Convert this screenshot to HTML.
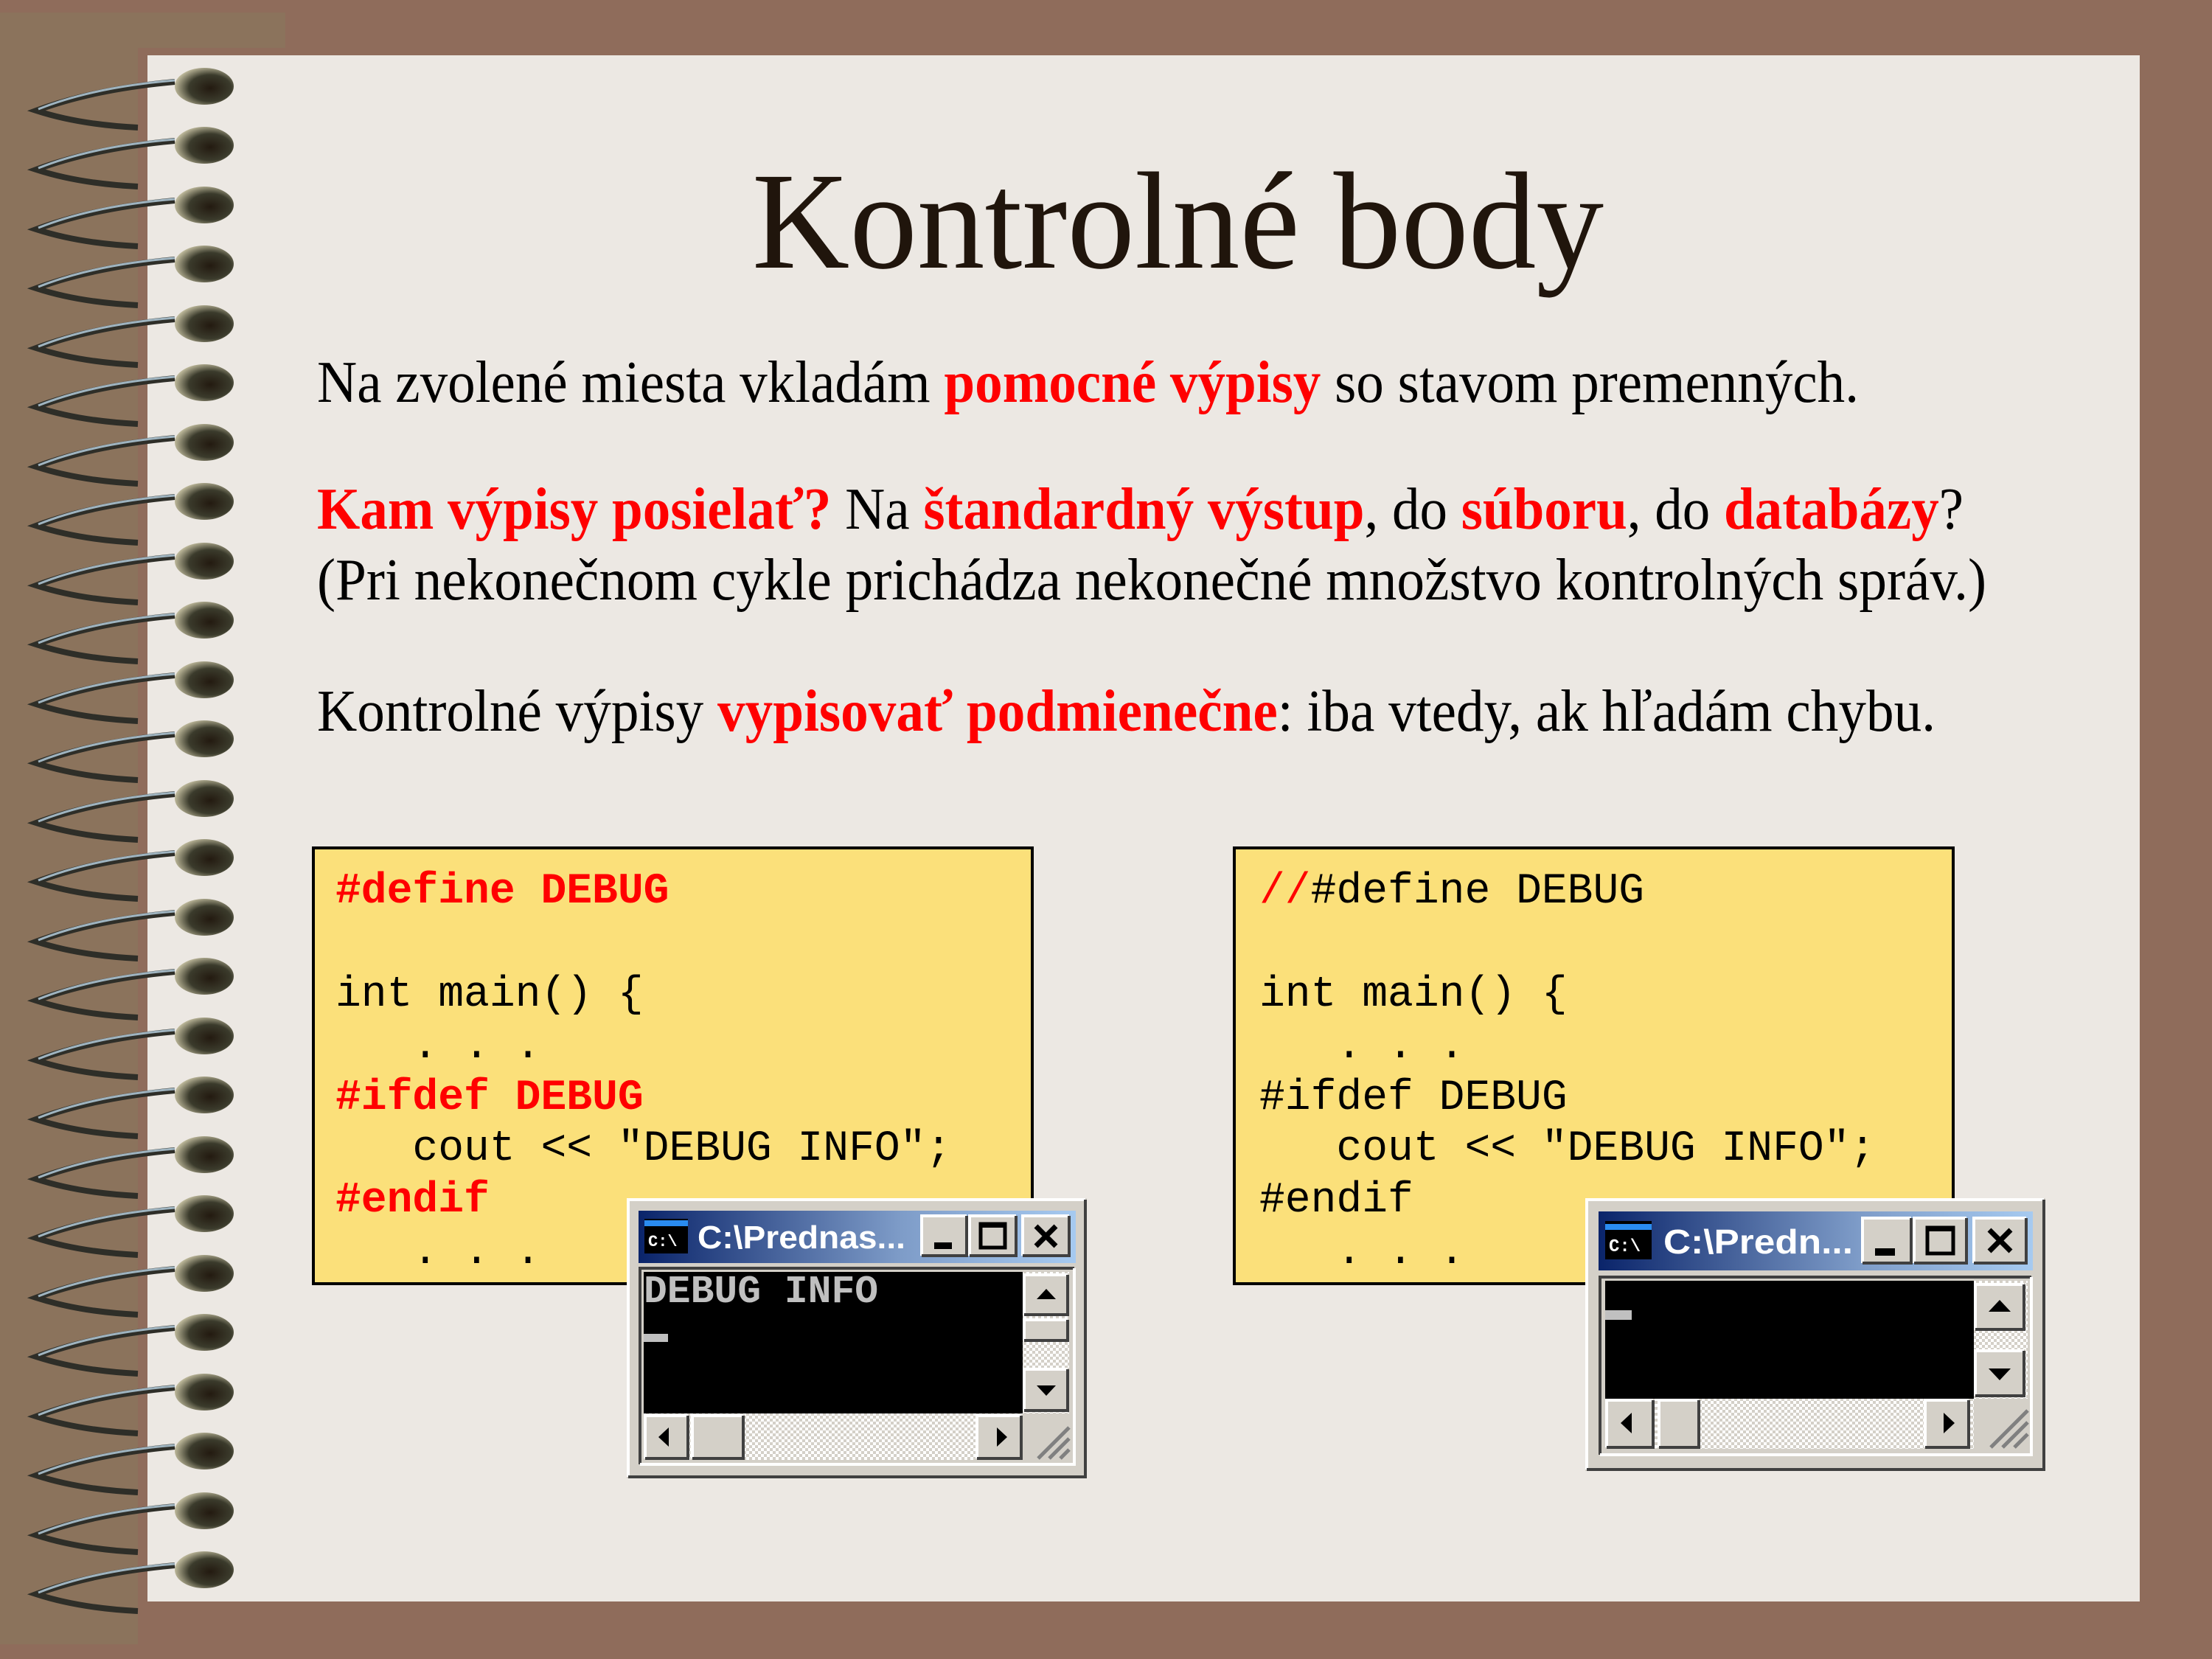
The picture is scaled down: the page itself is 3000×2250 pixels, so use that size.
<!DOCTYPE html>
<html><head><meta charset="utf-8"><style>
html,body{margin:0;padding:0;background:#8f6c5b;}
svg{display:block}
.s{font-family:"Liberation Serif",serif}
.m{font-family:"Liberation Mono",monospace;font-size:58px;white-space:pre}
.t{font-family:"Liberation Sans",sans-serif;font-weight:bold;fill:#fff}
.b{fill:#d4d0c8}
.hl{fill:none;stroke:#fff;stroke-width:4}
.sh{fill:none;stroke:#404040;stroke-width:4}
</style></head><body>
<svg width="3000" height="2250" viewBox="0 0 3000 2250" xmlns="http://www.w3.org/2000/svg">
<defs>
<linearGradient id="tg" x1="0" x2="1" y1="0" y2="0"><stop offset="0" stop-color="#0a246a"/><stop offset="0.6" stop-color="#7e9cc8"/><stop offset="1" stop-color="#a6caf0"/></linearGradient>
<pattern id="ck" width="8" height="8" patternUnits="userSpaceOnUse"><rect width="8" height="8" fill="#fff"/><rect width="4" height="4" fill="#d4d0c8"/><rect x="4" y="4" width="4" height="4" fill="#d4d0c8"/></pattern>
<radialGradient id="bd" cx="0.6" cy="0.55" r="0.6"><stop offset="0" stop-color="#231a10"/><stop offset="0.6" stop-color="#3b3b2c"/><stop offset="1" stop-color="#bdb89a"/></radialGradient>
<g id="ring">
<path d="M -40,-6 Q -150,4 -228,33 Q -170,52 -90,56" fill="none" stroke="#2e2e28" stroke-width="8"/>
<path d="M -40,-8 Q -150,1 -225,31" fill="none" stroke="#9fb4c0" stroke-width="3"/>
<ellipse cx="0" cy="0" rx="40" ry="25" fill="url(#bd)"/>
</g>
</defs>
<rect width="3000" height="2250" fill="#8f6c5b"/>
<rect x="0" y="17" width="387" height="48" fill="#8b735c"/>
<rect x="0" y="65" width="187" height="2165" fill="#8b735c"/>
<rect x="200" y="75" width="2702" height="2097" fill="#ece8e3"/>
<g>
<use href="#ring" x="277" y="117"/><use href="#ring" x="277" y="197"/><use href="#ring" x="277" y="278"/><use href="#ring" x="277" y="358"/><use href="#ring" x="277" y="439"/><use href="#ring" x="277" y="519"/><use href="#ring" x="277" y="600"/><use href="#ring" x="277" y="680"/><use href="#ring" x="277" y="761"/><use href="#ring" x="277" y="841"/><use href="#ring" x="277" y="922"/><use href="#ring" x="277" y="1002"/><use href="#ring" x="277" y="1083"/><use href="#ring" x="277" y="1163"/><use href="#ring" x="277" y="1244"/><use href="#ring" x="277" y="1324"/><use href="#ring" x="277" y="1405"/><use href="#ring" x="277" y="1485"/><use href="#ring" x="277" y="1566"/><use href="#ring" x="277" y="1646"/><use href="#ring" x="277" y="1727"/><use href="#ring" x="277" y="1807"/><use href="#ring" x="277" y="1888"/><use href="#ring" x="277" y="1968"/><use href="#ring" x="277" y="2049"/><use href="#ring" x="277" y="2129"/>
</g>
<text class="s" x="1020" y="363" font-size="188" fill="#20150c" textLength="1155" lengthAdjust="spacingAndGlyphs">Kontrolné body</text>
<text class="s" x="430" y="545" font-size="80" textLength="2091" lengthAdjust="spacingAndGlyphs">Na zvolené miesta vkladám <tspan fill="#ff0000" font-weight="bold">pomocné výpisy</tspan> so stavom premenných.</text>
<text class="s" x="430" y="717" font-size="80" textLength="2233" lengthAdjust="spacingAndGlyphs"><tspan fill="#ff0000" font-weight="bold">Kam výpisy posielať?</tspan> Na <tspan fill="#ff0000" font-weight="bold">štandardný výstup</tspan>, do <tspan fill="#ff0000" font-weight="bold">súboru</tspan>, do <tspan fill="#ff0000" font-weight="bold">databázy</tspan>?</text>
<text class="s" x="430" y="813" font-size="80" textLength="2264" lengthAdjust="spacingAndGlyphs">(Pri nekonečnom cykle prichádza nekonečné množstvo kontrolných správ.)</text>
<text class="s" x="430" y="991" font-size="80" textLength="2195" lengthAdjust="spacingAndGlyphs">Kontrolné výpisy <tspan fill="#ff0000" font-weight="bold">vypisovať podmienečne</tspan>: iba vtedy, ak hľadám chybu.</text>

<rect x="425" y="1150" width="975" height="591" fill="#fbe07a" stroke="#000" stroke-width="4"/>
<text class="m" x="455" y="1224" fill="#ff0000" font-weight="bold">#define DEBUG</text>
<text class="m" x="455" y="1364">int main() {</text>
<text class="m" x="455" y="1434">   . . .</text>
<text class="m" x="455" y="1504" fill="#ff0000" font-weight="bold">#ifdef DEBUG</text>
<text class="m" x="455" y="1573">   cout &lt;&lt; "DEBUG INFO";</text>
<text class="m" x="455" y="1643" fill="#ff0000" font-weight="bold">#endif</text>
<text class="m" x="455" y="1713">   . . .</text>

<rect x="1674" y="1150" width="975" height="591" fill="#fbe07a" stroke="#000" stroke-width="4"/>
<text class="m" x="1708" y="1224"><tspan fill="#ff0000">//</tspan>#define DEBUG</text>
<text class="m" x="1708" y="1364">int main() {</text>
<text class="m" x="1708" y="1434">   . . .</text>
<text class="m" x="1708" y="1504">#ifdef DEBUG</text>
<text class="m" x="1708" y="1573">   cout &lt;&lt; "DEBUG INFO";</text>
<text class="m" x="1708" y="1643">#endif</text>
<text class="m" x="1708" y="1713">   . . .</text>

<!-- Left console -->
<g>
<rect class="b" x="850" y="1625" width="624" height="380"/>
<path class="hl" d="M852,2003 V1627 H1472"/><path class="sh" d="M852,2003 H1472 V1627"/>
<rect x="866" y="1642" width="593" height="71" fill="url(#tg)"/>
<rect x="874" y="1653" width="59" height="47" fill="#000"/><rect x="874" y="1655" width="59" height="8" fill="#2a8cf0"/>
<text x="879" y="1690" font-family="Liberation Mono,monospace" font-size="22" font-weight="bold" fill="#fff">C:\</text>
<text class="t" x="946" y="1693" font-size="44" textLength="282" lengthAdjust="spacingAndGlyphs">C:\Prednas...</text>
<rect class="b" x="1250" y="1649" width="61" height="54"/><path class="hl" d="M1250,1703 V1649 H1311"/><path class="sh" d="M1250,1703 H1311 V1649"/><rect x="1267" y="1685" width="24" height="9" fill="#000"/>
<rect class="b" x="1315" y="1649" width="63" height="54"/><path class="hl" d="M1315,1703 V1649 H1378"/><path class="sh" d="M1315,1703 H1378 V1649"/><rect x="1330" y="1660" width="33" height="32" fill="none" stroke="#000" stroke-width="5"/><rect x="1330" y="1658" width="33" height="7" fill="#000"/>
<rect class="b" x="1387" y="1649" width="63" height="54"/><path class="hl" d="M1387,1703 V1649 H1450"/><path class="sh" d="M1387,1703 H1450 V1649"/><path d="M1405,1663 L1432,1690 M1432,1663 L1405,1690" stroke="#000" stroke-width="7"/>
<path class="sh" d="M868,1986 V1720 H1457"/><path class="hl" d="M868,1986 H1457 V1720"/>
<rect x="873" y="1725" width="514" height="192" fill="#000"/>
<text x="873" y="1766" font-family="Liberation Mono,monospace" font-size="53" font-weight="bold" fill="#c0c0c0">DEBUG INFO</text>
<rect x="873" y="1809" width="33" height="11" fill="#c0c0c0"/>
<rect x="1387" y="1725" width="63" height="255" fill="url(#ck)"/>
<rect class="b" x="1387" y="1727" width="63" height="56"/><path class="hl" d="M1389,1783 V1729 H1448"/><path class="sh" d="M1389,1783 H1448 V1729"/><path d="M1419,1748 L1406,1762 H1432 Z" fill="#000"/>
<rect class="b" x="1387" y="1788" width="63" height="30"/><path class="hl" d="M1389,1818 V1790 H1448"/><path class="sh" d="M1389,1818 H1448 V1790"/>
<rect class="b" x="1387" y="1855" width="63" height="58"/><path class="hl" d="M1389,1913 V1857 H1448"/><path class="sh" d="M1389,1913 H1448 V1857"/><path d="M1419,1893 L1406,1879 H1432 Z" fill="#000"/>
<rect x="873" y="1917" width="514" height="63" fill="url(#ck)"/>
<rect class="b" x="873" y="1918" width="62" height="62"/><path class="hl" d="M875,1978 V1920 H933"/><path class="sh" d="M875,1978 H933 V1920"/><path d="M893,1949 L907,1936 V1962 Z" fill="#000"/>
<rect class="b" x="937" y="1918" width="73" height="62"/><path class="hl" d="M939,1978 V1920 H1008"/><path class="sh" d="M939,1978 H1008 V1920"/>
<rect class="b" x="1323" y="1918" width="64" height="62"/><path class="hl" d="M1325,1978 V1920 H1385"/><path class="sh" d="M1325,1978 H1385 V1920"/><path d="M1366,1949 L1352,1936 V1962 Z" fill="#000"/>
<rect class="b" x="1387" y="1917" width="63" height="63"/>
<path d="M1408,1978 L1450,1936 M1423,1978 L1450,1951 M1438,1978 L1450,1966" stroke="#808080" stroke-width="5"/>
</g>

<!-- Right console -->
<g>
<rect class="b" x="2150" y="1625" width="624" height="370"/>
<path class="hl" d="M2152,1993 V1627 H2772"/><path class="sh" d="M2152,1993 H2772 V1627"/>
<rect x="2168" y="1643" width="589" height="80" fill="url(#tg)"/>
<rect x="2177" y="1656" width="63" height="52" fill="#000"/><rect x="2177" y="1660" width="63" height="8" fill="#2a8cf0"/>
<text x="2182" y="1697" font-family="Liberation Mono,monospace" font-size="24" font-weight="bold" fill="#fff">C:\</text>
<text class="t" x="2256" y="1700" font-size="46" textLength="257" lengthAdjust="spacingAndGlyphs">C:\Predn...</text>
<rect class="b" x="2526" y="1652" width="66" height="61"/><path class="hl" d="M2526,1713 V1652 H2592"/><path class="sh" d="M2526,1713 H2592 V1652"/><rect x="2543" y="1693" width="27" height="10" fill="#000"/>
<rect class="b" x="2596" y="1652" width="71" height="61"/><path class="hl" d="M2596,1713 V1652 H2667"/><path class="sh" d="M2596,1713 H2667 V1652"/><rect x="2614" y="1665" width="35" height="35" fill="none" stroke="#000" stroke-width="5"/><rect x="2614" y="1663" width="35" height="7" fill="#000"/>
<rect class="b" x="2677" y="1652" width="71" height="61"/><path class="hl" d="M2677,1713 V1652 H2748"/><path class="sh" d="M2677,1713 H2748 V1652"/><path d="M2698,1668 L2727,1697 M2727,1668 L2698,1697" stroke="#000" stroke-width="7"/>
<path class="sh" d="M2170,1973 V1732 H2755"/><path class="hl" d="M2170,1973 H2755 V1732"/>
<rect x="2177" y="1737" width="500" height="160" fill="#000"/>
<rect x="2177" y="1777" width="36" height="13" fill="#c0c0c0"/>
<rect x="2677" y="1737" width="73" height="228" fill="url(#ck)"/>
<rect class="b" x="2677" y="1740" width="70" height="63"/><path class="hl" d="M2679,1803 V1742 H2745"/><path class="sh" d="M2679,1803 H2745 V1742"/><path d="M2712,1763 L2697,1779 H2727 Z" fill="#000"/>
<rect class="b" x="2677" y="1830" width="70" height="63"/><path class="hl" d="M2679,1893 V1832 H2745"/><path class="sh" d="M2679,1893 H2745 V1832"/><path d="M2712,1872 L2697,1856 H2727 Z" fill="#000"/>
<rect x="2177" y="1897" width="500" height="68" fill="url(#ck)"/>
<rect class="b" x="2177" y="1897" width="67" height="68"/><path class="hl" d="M2179,1963 V1899 H2242"/><path class="sh" d="M2179,1963 H2242 V1899"/><path d="M2198,1930 L2213,1916 V1944 Z" fill="#000"/>
<rect class="b" x="2248" y="1897" width="58" height="68"/><path class="hl" d="M2250,1963 V1899 H2304"/><path class="sh" d="M2250,1963 H2304 V1899"/>
<rect class="b" x="2609" y="1897" width="63" height="68"/><path class="hl" d="M2611,1963 V1899 H2670"/><path class="sh" d="M2611,1963 H2670 V1899"/><path d="M2651,1930 L2636,1916 V1944 Z" fill="#000"/>
<rect class="b" x="2677" y="1897" width="73" height="68"/>
<path d="M2700,1963 L2750,1913 M2716,1963 L2750,1929 M2732,1963 L2750,1945" stroke="#808080" stroke-width="5"/>
</g>
</svg>
</body></html>
